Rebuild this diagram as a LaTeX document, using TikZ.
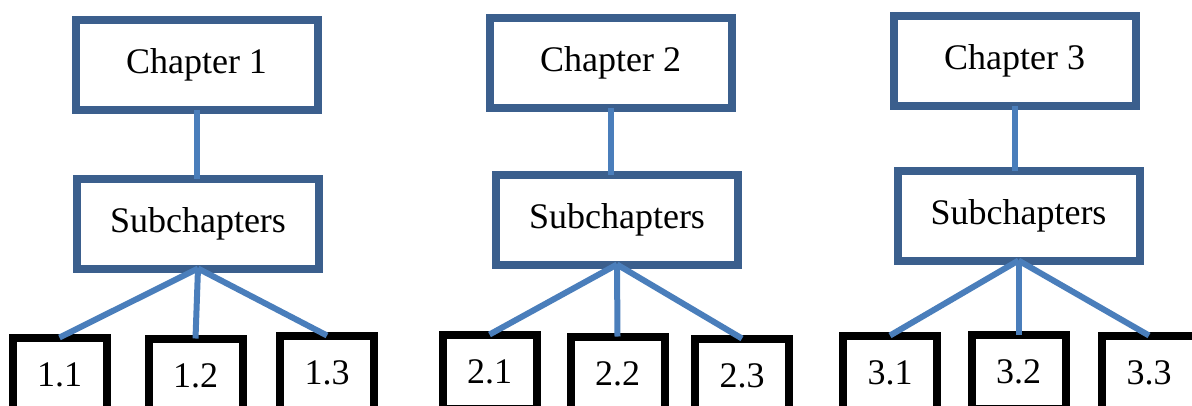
\documentclass[tikz,border=0pt]{standalone}
\usepackage{fontspec}
\setmainfont{Liberation Serif}
\definecolor{boxblue}{HTML}{3B5F8D}
\definecolor{lineblue}{HTML}{4A7EBB}
\tikzset{
	chapbox/.style={draw=boxblue, fill=white, line width=8pt, minimum width=242pt, minimum height=90pt, outer sep=0pt, inner sep=0pt, font=\fontsize{36}{43}\selectfont},
	leafbox/.style={draw=black, fill=white, line width=8pt, minimum width=94pt, minimum height=74pt, outer sep=0pt, inner sep=0pt, font=\fontsize{36}{43}\selectfont},
	link/.style={lineblue, line width=6pt}
}
\begin{document}
\begin{tikzpicture}[x=1pt, y=-1pt]
	\useasboundingbox (0,0) rectangle (1192,405);
	\clip (0,0) rectangle (1192,405);
	
	\node[chapbox] (ch1) at (196.5,64.5) {Chapter 1};
	\node[chapbox] (sub1) at (198,223.5) {Subchapters};
	\node[leafbox] (s11) at (59.5,374.5) {1.1};
	\node[leafbox] (s12) at (195.5,375.5) {1.2};
	\node[leafbox] (s13) at (327,372.5) {1.3};
	
	\node[chapbox] (ch2) at (610.5,63) {Chapter 2};
	\node[chapbox] (sub2) at (617,219.5) {Subchapters};
	\node[leafbox] (s21) at (489.5,371.5) {2.1};
	\node[leafbox] (s22) at (617.5,373.5) {2.2};
	\node[leafbox] (s23) at (742,375.5) {2.3};
	
	\node[chapbox] (ch3) at (1014.5,61) {Chapter 3};
	\node[chapbox] (sub3) at (1018.5,215.5) {Subchapters};
	\node[leafbox] (s31) at (890,372.5) {3.1};
	\node[leafbox] (s32) at (1018.5,371.5) {3.2};
	\node[leafbox] (s33) at (1149,372.5) {3.3};
	
	\draw[link] (ch1.south) -- (ch1.south |- sub1.north);
	\draw[link] (sub1.south) -- (s11.north);
	\draw[link] (sub1.south) -- (s12.north);
	\draw[link] (sub1.south) -- (s13.north);
	
	\draw[link] (ch2.south) -- (ch2.south |- sub2.north);
	\draw[link] (sub2.south) -- (s21.north);
	\draw[link] (sub2.south) -- (s22.north);
	\draw[link] (sub2.south) -- (s23.north);
	
	\draw[link] (ch3.south) -- (ch3.south |- sub3.north);
	\draw[link] (sub3.south) -- (s31.north);
	\draw[link] (sub3.south) -- (s32.north);
	\draw[link] (sub3.south) -- (s33.north);
\end{tikzpicture}
\end{document}
